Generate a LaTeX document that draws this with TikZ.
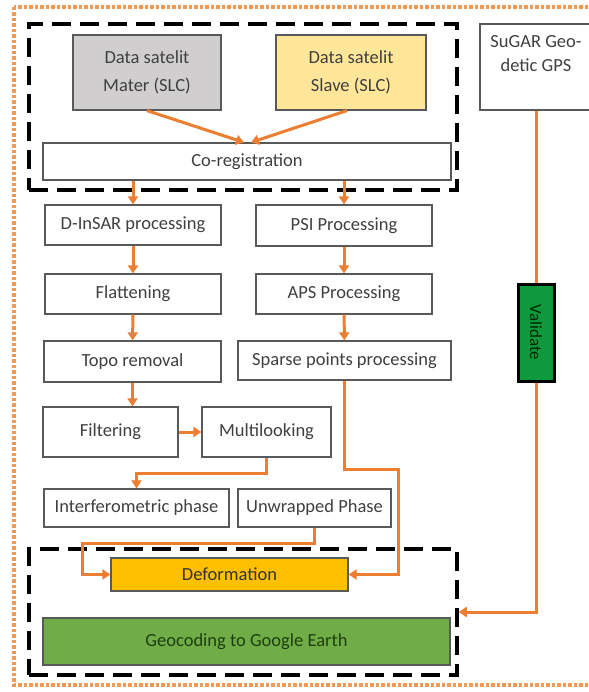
\documentclass[tikz,border=0pt]{standalone}
\usepackage{fontspec}
\setmainfont{Carlito}
\usetikzlibrary{arrows.meta, positioning}

\definecolor{flowor}{HTML}{ED7D31}
\definecolor{dotor}{HTML}{F29A55}
\definecolor{edgegray}{HTML}{595959}
\definecolor{txtgray}{HTML}{404040}
\definecolor{mastergray}{HTML}{D0CECE}
\definecolor{slaveyel}{HTML}{FFE699}
\definecolor{deforange}{HTML}{FFC000}
\definecolor{geogreen}{HTML}{70AD47}
\definecolor{geotext}{HTML}{1E3F10}
\definecolor{validgreen}{HTML}{0E9A3C}

\tikzset{
  proc/.style={draw=edgegray, line width=1.2pt, fill=white, text=txtgray,
    inner sep=0pt, align=center, font=\fontsize{18.5}{28}\selectfont},
  flow/.style={draw=flowor, line width=3pt, -{Triangle[length=8pt,width=10pt]}},
  wire/.style={draw=flowor, line width=3pt},
  stage/.style={draw=black, line width=3.5pt, dash pattern=on 19pt off 9pt, inner sep=0pt},
}

\begin{document}
\begin{tikzpicture}[x=1pt, y=-1pt]
  \useasboundingbox (0,0) rectangle (588,692);
  % outer frame
  \draw[dotor, line width=3.5pt, dash pattern=on 3.5pt off 2pt] (14,7) rectangle (602,685);

  % dashed groups
  \node[stage, minimum width=428pt, minimum height=166pt] (upper) at (243,107) {};
  \node[stage, minimum width=428pt, minimum height=126pt] (lower) at (243,612) {};

  % input data
  \node[proc, fill=mastergray, minimum width=148pt, minimum height=75pt] (master) at (147,72.5) {Data satelit\\Mater (SLC)};
  \node[proc, fill=slaveyel, minimum width=150pt, minimum height=75pt] (slave) at (351,72.5) {Data satelit\\Slave (SLC)};
  \node[proc, minimum width=112pt, minimum height=86pt,
    label={[font=\fontsize{18.5}{24}\selectfont, text=txtgray, align=center, anchor=north, yshift=-9pt]north:SuGAR Geo-\\detic GPS}] (sugar) at (536,67) {};
  \node[proc, minimum width=408pt, minimum height=37pt] (coreg) at (247,161.5) {Co-registration};

  % D-InSAR branch
  \node[proc, minimum width=176pt, minimum height=40pt] (dinsar) at (133,225) {D-InSAR processing};
  \node[proc, minimum width=176pt, minimum height=40pt] (flat) at (133,294) {Flattening};
  \node[proc, minimum width=177pt, minimum height=41pt] (topo) at (132.5,361.5) {Topo removal};
  \node[proc, minimum width=135pt, minimum height=50pt] (filt) at (110.5,432) {Filtering};
  \node[proc, minimum width=129pt, minimum height=50pt] (multi) at (266.5,432) {Multilooking};
  \node[proc, minimum width=185pt, minimum height=38pt] (interf) at (136.5,508) {Interferometric phase};
  \node[proc, minimum width=153pt, minimum height=38pt] (unwr) at (314.5,508) {Unwrapped Phase};

  % PSI branch
  \node[proc, minimum width=176pt, minimum height=41pt] (psi) at (344,225.5) {PSI Processing};
  \node[proc, minimum width=176pt, minimum height=40pt] (aps) at (344,294) {APS Processing};
  \node[proc, minimum width=213pt, minimum height=39pt] (sparse) at (344.5,360.5) {Sparse points processing};

  % results
  \node[proc, fill=deforange, text=black!80, minimum width=237pt, minimum height=33pt] (deform) at (229.5,574.5) {Deformation};
  \node[proc, fill=geogreen, text=geotext, minimum width=407pt, minimum height=47pt] (geo) at (246.5,641.5) {Geocoding to Google Earth};

  % GPS check
  \node[draw=black, line width=3pt, fill=validgreen, rotate=-90, minimum width=97pt, minimum height=36pt,
    inner sep=0pt, font=\fontsize{17}{20}\selectfont, text=black!85!green] (valid) at (536,332.5) {Validate};

  % connectors
  \draw[flow] (master.south) -- ([xshift=-3pt]coreg.north);
  \draw[flow] ([xshift=-4pt]slave.south) -- ([xshift=4pt]coreg.north);
  \draw[flow] (dinsar.north |- coreg.south) -- (dinsar.north);
  \draw[flow] (psi.north |- coreg.south) -- (psi.north);
  \draw[flow] (dinsar) -- (flat);
  \draw[flow] (flat) -- (topo);
  \draw[flow] (psi) -- (aps);
  \draw[flow] (aps) -- (sparse);
  \draw[flow] (topo.south) -- (topo.south |- filt.north);
  \draw[flow] (filt) -- (multi);
  \draw[flow] (multi.south) -- ++(0,16) -| (interf.north);
  \draw[flow] (unwr.south) -- ++(0,16) -| ([xshift=-28pt]deform.west) -- (deform.west);
  \draw[flow] (sparse.south) -- ++(0,89) -| ([xshift=50pt]deform.east) -- (deform.east);
  \draw[wire] (sugar) -- (valid);
  \draw[flow] (valid.east) |- (lower.east);
\end{tikzpicture}
\end{document}
